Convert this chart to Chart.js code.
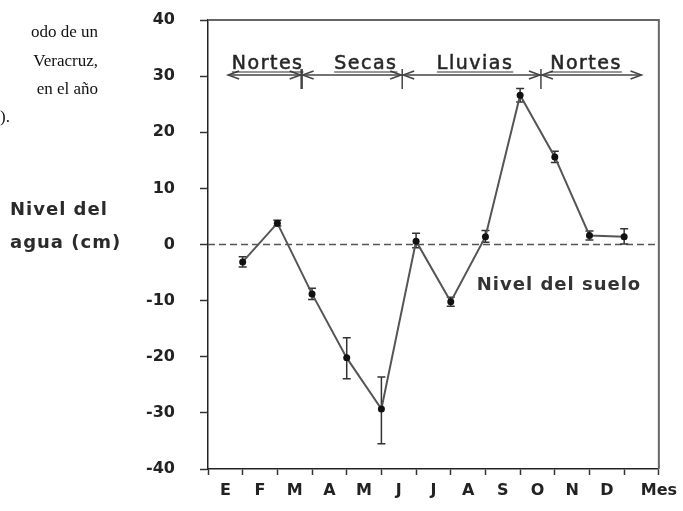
<!DOCTYPE html>
<html>
<head>
<meta charset="utf-8">
<script src="https://cdn.jsdelivr.net/npm/chart.js@4.4.1/dist/chart.umd.min.js"></script>
<style>
    html, body { margin: 0; padding: 0; background: #fff; }
    canvas { display: block; }
</style>
</head>
<body>
<canvas id="nivelChart" width="683" height="511"></canvas>
<script>

var monthLabels = ["E", "F", "M", "A", "M", "J", "J", "A", "S", "O", "N", "D"];
var monthPos = [1, 2, 3, 4, 5, 6, 7, 8, 9, 10, 11, 12];
var nivelAgua = [-3.1, 3.8, -8.8, -20.2, -29.3, 0.6, -10.2, 1.4, 26.6, 15.6, 1.6, 1.4];
var errorUp = [0.9, 0.5, 1.0, 3.6, 5.7, 1.4, 0.8, 1.1, 1.2, 1.0, 0.8, 1.4];
var errorDown = [0.9, 0.5, 1.0, 3.7, 6.2, 1.2, 0.8, 1.0, 1.2, 1.0, 0.8, 1.3];

var seasonNames = ["Nortes", "Secas", "Lluvias", "Nortes"];
var seasonCenters = [1.72, 4.55, 7.7, 10.9];
var seasonBounds = [0.58, 2.7, 5.6, 9.6, 12.5];
var seasonLevel = 30.2;

var bodyLines = ["odo de un", "Veracruz,", "en el año", ")."];

var points = monthPos.map(function (x, i) {
    return { x: x, y: nivelAgua[i] };
});

var FONT = "'DejaVu Sans', sans-serif";

// =========================================
// EXTRA DRAWING (error bars, zero line, seasons, texts)
// =========================================

var extrasPlugin = {

    id: "extras",

    beforeDatasetsDraw: function (chart) {

        var ctx = chart.ctx;
        var xs = chart.scales.x;
        var ys = chart.scales.y;
        var area = chart.chartArea;

        ctx.save();

        // ground level dashed line
        ctx.strokeStyle = "#555";
        ctx.lineWidth = 1.5;
        ctx.setLineDash([7, 4]);
        ctx.beginPath();
        ctx.moveTo(area.left, ys.getPixelForValue(0));
        ctx.lineTo(area.right, ys.getPixelForValue(0));
        ctx.stroke();
        ctx.setLineDash([]);

        // error bars
        ctx.strokeStyle = "#333";
        ctx.lineWidth = 1.5;

        monthPos.forEach(function (m, i) {

            var px = xs.getPixelForValue(m);
            var top = ys.getPixelForValue(nivelAgua[i] + errorUp[i]);
            var bot = ys.getPixelForValue(nivelAgua[i] - errorDown[i]);

            ctx.beginPath();
            ctx.moveTo(px, top);
            ctx.lineTo(px, bot);
            ctx.moveTo(px - 4, top);
            ctx.lineTo(px + 4, top);
            ctx.moveTo(px - 4, bot);
            ctx.lineTo(px + 4, bot);
            ctx.stroke();
        });

        ctx.restore();
    },

    afterDraw: function (chart) {

        var ctx = chart.ctx;
        var xs = chart.scales.x;
        var ys = chart.scales.y;
        var area = chart.chartArea;

        ctx.save();

        // frame top and right
        ctx.strokeStyle = "#666";
        ctx.lineWidth = 2;
        ctx.beginPath();
        ctx.moveTo(area.left, area.top);
        ctx.lineTo(area.right, area.top);
        ctx.lineTo(area.right, area.bottom);
        ctx.stroke();

        // seasons arrow line
        var ly = ys.getPixelForValue(seasonLevel);
        var x0 = xs.getPixelForValue(seasonBounds[0]);
        var x1 = xs.getPixelForValue(seasonBounds[seasonBounds.length - 1]);

        ctx.strokeStyle = "#444";
        ctx.lineWidth = 1.5;
        ctx.beginPath();
        ctx.moveTo(x0, ly);
        ctx.lineTo(x1, ly);
        ctx.stroke();

        function arrowHead(x, dir) {
            ctx.beginPath();
            ctx.moveTo(x - dir * 11, ly - 4);
            ctx.lineTo(x, ly);
            ctx.lineTo(x - dir * 11, ly + 4);
            ctx.stroke();
        }

        arrowHead(x0, -1);
        arrowHead(x1, 1);

        for (var b = 1; b < seasonBounds.length - 1; b++) {

            var bx = xs.getPixelForValue(seasonBounds[b]);

            arrowHead(bx - 1, 1);
            arrowHead(bx + 1, -1);

            ctx.lineWidth = b === 1 ? 2.5 : 1.5;
            ctx.beginPath();
            ctx.moveTo(bx, ly - 6);
            ctx.lineTo(bx, ly + 14);
            ctx.stroke();
            ctx.lineWidth = 1.5;
        }

        // season names
        ctx.fillStyle = "#222";
        ctx.font = "19px " + FONT;
        ctx.letterSpacing = "1.5px";
        ctx.textAlign = "center";
        ctx.textBaseline = "alphabetic";

        seasonNames.forEach(function (name, i) {

            var cx = xs.getPixelForValue(seasonCenters[i]);
            var w = ctx.measureText(name).width;

            ctx.fillText(name, cx, ly - 6);
            ctx.strokeStyle = "#333";
            ctx.lineWidth = 0.6;
            ctx.strokeText(name, cx, ly - 6);

            ctx.lineWidth = 1.2;
            ctx.beginPath();
            ctx.moveTo(cx - w / 2, ly - 3);
            ctx.lineTo(cx + w / 2, ly - 3);
            ctx.stroke();
        });

        // ground level label
        ctx.textAlign = "left";
        ctx.textBaseline = "middle";
        ctx.font = "bold 18px " + FONT;
        ctx.letterSpacing = "1px";
        ctx.fillStyle = "#333";
        ctx.fillText("Nivel del suelo", xs.getPixelForValue(7.75), ys.getPixelForValue(-7.3));

        // y axis title
        ctx.font = "bold 18px " + FONT;
        ctx.letterSpacing = "1px";
        ctx.fillStyle = "#2a2a2a";
        ctx.fillText("Nivel del", 10, 210);
        ctx.fillText("agua (cm)", 10, 243);

        // surrounding body text
        ctx.letterSpacing = "0px";
        ctx.font = "17px 'Liberation Serif', serif";
        ctx.fillStyle = "#111";
        ctx.textAlign = "right";
        for (var k = 0; k < bodyLines.length - 1; k++) {
            ctx.fillText(bodyLines[k], 98, 33 + k * 28.3);
        }
        ctx.textAlign = "left";
        ctx.fillText(bodyLines[bodyLines.length - 1], 0, 33 + 3 * 28.3);

        ctx.restore();
    }
};

// =========================================
// LINE CHART
// =========================================

var canvas = document.getElementById("nivelChart");

new Chart(canvas, {

    type: "line",

    data: {
        datasets: [{
            label: "Nivel del agua",
            data: points,
            borderColor: "#555",
            borderWidth: 2,
            pointRadius: 3.5,
            pointBackgroundColor: "#111",
            pointBorderWidth: 0,
            tension: 0
        }]
    },

    options: {

        responsive: false,
        animation: false,

        layout: {
            padding: { left: 0, top: 20, right: 24, bottom: 0 }
        },

        plugins: {
            legend: { display: false },
            tooltip: { enabled: false }
        },

        scales: {

            x: {
                type: "linear",
                min: 0,
                max: 13,
                afterFit: function (scale) { scale.height = 42; },
                border: { display: true, color: "#222", width: 1.5 },
                grid: {
                    drawOnChartArea: false,
                    drawTicks: true,
                    tickLength: 6,
                    tickWidth: 1.5,
                    tickColor: function (c) {
                        if (!c.tick) { return "#333"; }
                        return Number.isInteger(c.tick.value) ? "#333" : "rgba(0,0,0,0)";
                    }
                },
                ticks: {
                    stepSize: 0.5,
                    autoSkip: false,
                    maxRotation: 0,
                    padding: 6,
                    color: "#222",
                    font: { family: FONT, size: 16, weight: "bold" },
                    callback: function (value) {
                        if (Number.isInteger(value)) {
                            return value === 13 ? "Mes" : "";
                        }
                        return monthLabels[Math.floor(value)] || "";
                    }
                }
            },

            y: {
                min: -40,
                max: 40,
                afterFit: function (scale) {
                    scale.width = 208;
                    scale.paddingTop = 10;
                    scale.paddingBottom = 10;
                },
                border: { display: true, color: "#222", width: 1.5 },
                grid: {
                    drawOnChartArea: false,
                    drawTicks: true,
                    tickLength: 8,
                    tickWidth: 1.5,
                    tickColor: "#333"
                },
                ticks: {
                    stepSize: 10,
                    padding: 25,
                    color: "#222",
                    font: { family: FONT, size: 16, weight: "bold" }
                }
            }
        }
    },

    plugins: [extrasPlugin]
});
</script>
</body>
</html>
